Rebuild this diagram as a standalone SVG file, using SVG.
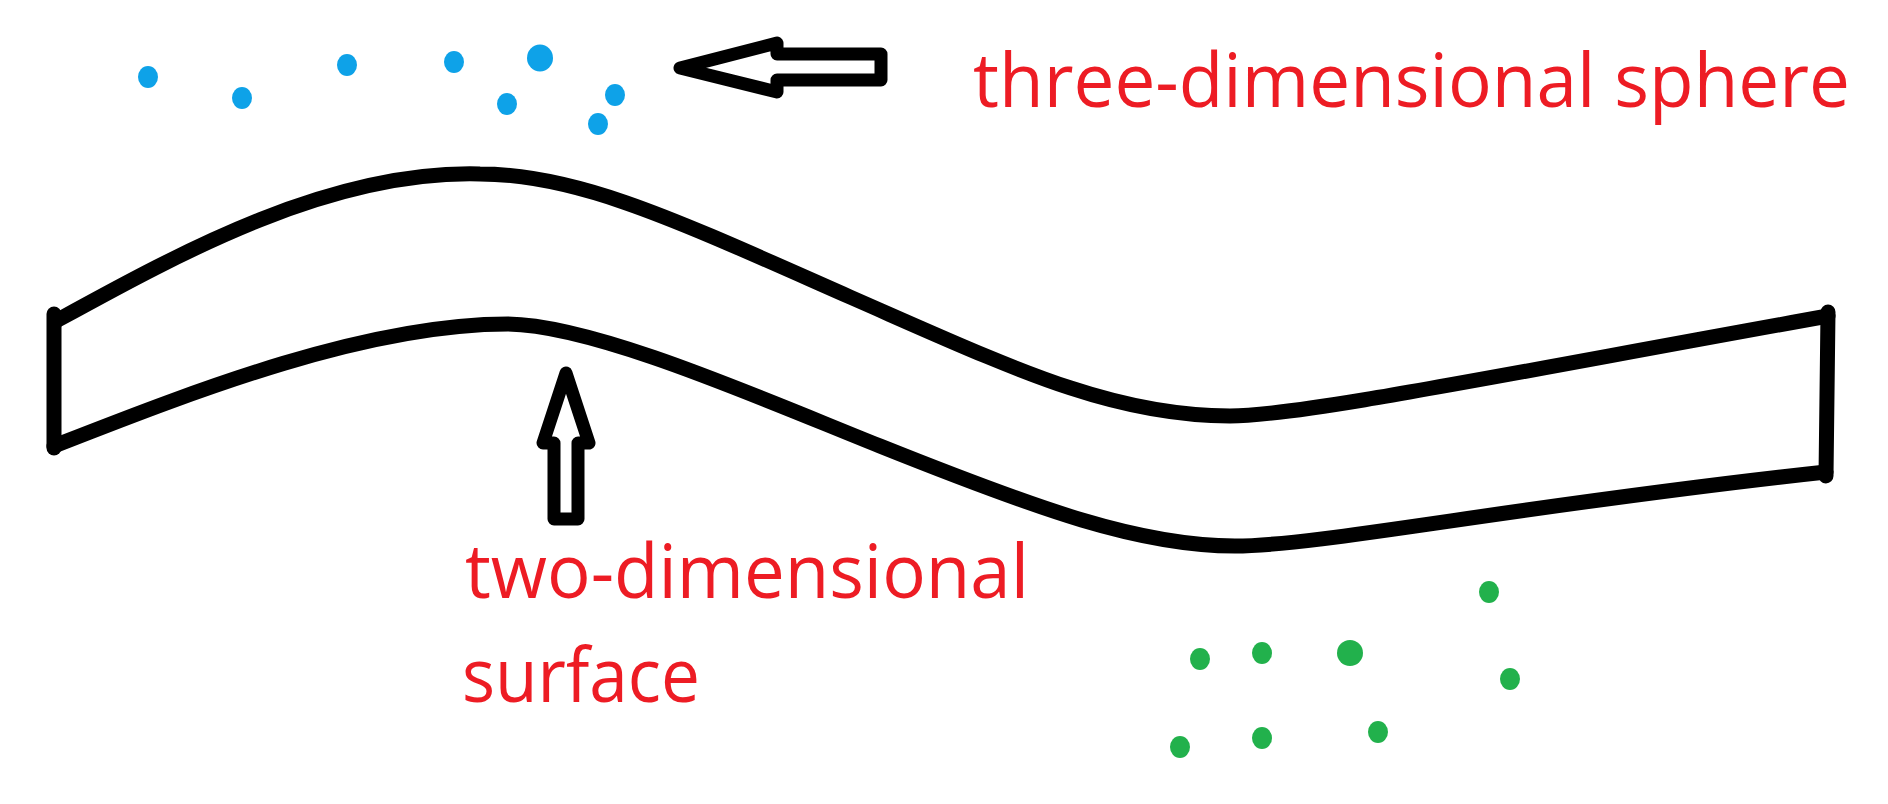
<svg xmlns="http://www.w3.org/2000/svg" width="1888" height="804" viewBox="0 0 1888 804">
<style>
.ink{fill:none;stroke:#000;stroke-width:15;stroke-linejoin:round;stroke-linecap:round}
.arr{fill:none;stroke:#000;stroke-width:13;stroke-linejoin:round;stroke-linecap:round}
.lbl{font-family:"Open Sans","Noto Sans","Liberation Sans",sans-serif;font-size:75px;fill:#ED1C24}
.blue{fill:#0EA2E8}
.green{fill:#22B14C}
</style>
<rect x="0" y="0" width="1888" height="804" fill="#fff"/>
<g id="surface-band">
<path class="ink" d="M54,314 L54,448"/>
<path class="ink" d="M56,321 C180,253 330,170 480,174 C580,174 680,222 850,297 C1010,367 1110,416 1230,416 C1300,416 1500,375 1828,316"/>
<path class="ink" d="M54,446 C195,391 365,324 508,324 C595,325 760,398 880,446 C1040,510 1140,546 1235,546 C1320,546 1520,505 1826,472"/>
<path class="ink" d="M1828,312 L1826,476"/>
</g>
<g id="blue-dots">
<ellipse class="blue" cx="148" cy="77" rx="10" ry="11"/>
<ellipse class="blue" cx="242" cy="98" rx="10" ry="11"/>
<ellipse class="blue" cx="347" cy="65" rx="10" ry="11"/>
<ellipse class="blue" cx="454" cy="62" rx="10" ry="11"/>
<ellipse class="blue" cx="540" cy="58" rx="13" ry="13.5"/>
<ellipse class="blue" cx="507" cy="104" rx="10" ry="11"/>
<ellipse class="blue" cx="615" cy="95" rx="10" ry="11"/>
<ellipse class="blue" cx="598" cy="124" rx="10" ry="11"/>
</g>
<g id="green-dots">
<ellipse class="green" cx="1489" cy="592" rx="10" ry="11"/>
<ellipse class="green" cx="1200" cy="659" rx="10" ry="11"/>
<ellipse class="green" cx="1262" cy="653" rx="10" ry="11"/>
<ellipse class="green" cx="1350" cy="653" rx="13" ry="13"/>
<ellipse class="green" cx="1510" cy="679" rx="10" ry="11"/>
<ellipse class="green" cx="1180" cy="747" rx="10" ry="11"/>
<ellipse class="green" cx="1262" cy="738" rx="10" ry="11"/>
<ellipse class="green" cx="1378" cy="732" rx="10" ry="11"/>
</g>
<g id="connectors">
<polygon id="arrow-sphere" class="arr" points="680,68 777,43 777,54 881,54 881,80 777,80 777,92"/>
<polygon id="arrow-surface" class="arr" points="566,373 589,443 578,443 578,519 554,519 554,443 543,443"/>
</g>
<g id="label-sphere">
<text class="lbl" x="973" y="107" textLength="877" lengthAdjust="spacingAndGlyphs">three-dimensional sphere</text>
</g>
<g id="label-surface">
<text class="lbl" x="465" y="598" textLength="564" lengthAdjust="spacingAndGlyphs">two-dimensional</text>
<text class="lbl" x="462" y="702" textLength="238" lengthAdjust="spacingAndGlyphs">surface</text>
</g>
</svg>
